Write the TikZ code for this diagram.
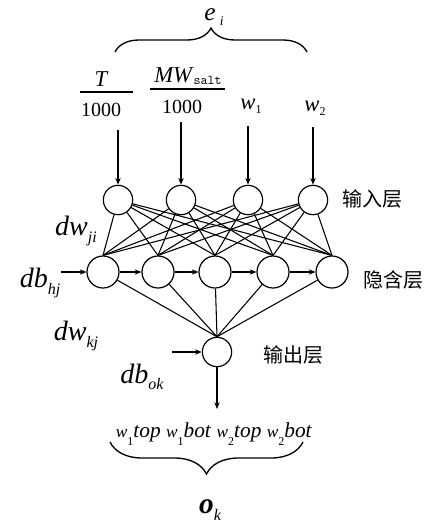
\documentclass[tikz,border=0pt]{standalone}
\usepackage{fontspec}
\setmainfont{Liberation Serif}
\newfontfamily\cjk{Noto Sans CJK SC}
\usetikzlibrary{decorations.pathreplacing,arrows.meta}
\begin{document}
\begin{tikzpicture}[x=0.75pt,y=-0.75pt,
  neuron/.style={circle,draw,line width=0.9pt,minimum size=22pt,inner sep=0pt},
  conn/.style={line width=0.8pt},
  arr/.style={line width=0.9pt,-{Stealth[length=5pt,width=4pt]}},
  lbl/.style={inner sep=0pt},
  brc/.style={decorate,line width=1pt}]
\useasboundingbox (0,0) rectangle (438,526);
% input layer
\foreach \i/\x in {1/118,2/181,3/248,4/313}
  \node[neuron] (i\i) at (\x,200) {};
% hidden layer
\foreach \j/\x in {1/103,2/158,3/215,4/273,5/332}
  \node[neuron,minimum size=24pt] (h\j) at (\x,272) {};
% output
\node[neuron] (o) at (217,352) {};
% connections
\foreach \i in {1,...,4}
  \foreach \j in {1,...,5}
    \draw[conn] (i\i) -- (h\j.north);
\foreach \j in {1,...,5}
  \draw[conn] (h\j) -- (o.north);
\foreach \a/\b in {1/2,2/3,3/4,4/5}
  \draw[arr] (h\a) -- (h\b);
% input texts
\node[lbl,font=\fontsize{17}{17}\selectfont\itshape] (tT) at (101,79) {T};
\coordinate (fl1a) at (80,92); \coordinate (fl1b) at (133,92);
\draw[line width=0.9pt] (fl1a) -- (fl1b);
\node[lbl,font=\fontsize{15}{15}\selectfont] (t1000a) at (101,110) {1000};
\node[lbl,font=\fontsize{17}{17}\selectfont] (tMW) at (188,76) {\textit{MW}\raisebox{-2pt}{\fontsize{10}{10}\selectfont\ttfamily salt}};
\coordinate (fl2a) at (150,89); \coordinate (fl2b) at (225,89);
\draw[line width=0.9pt] (fl2a) -- (fl2b);
\node[lbl,font=\fontsize{15}{15}\selectfont] (t1000b) at (182,107) {1000};
\node[lbl,font=\fontsize{17}{17}\selectfont] (tw1) at (251,106) {\textit{w}\raisebox{-3pt}{\fontsize{9}{9}\selectfont 1}};
\node[lbl,font=\fontsize{17}{17}\selectfont] (tw2) at (315,108) {\textit{w}\raisebox{-3pt}{\fontsize{9}{9}\selectfont 2}};
% input arrows
\coordinate (s1) at (118,130); \coordinate (s2) at (181,122);
\coordinate (s3) at (248,126); \coordinate (s4) at (313,127);
\foreach \i in {1,...,4} \draw[arr] (s\i) -- (i\i.north);
% top brace
\coordinate (b1a) at (115,52); \coordinate (b1b) at (307,52);
\draw[brc,decoration={brace,amplitude=18pt,aspect=0.5}] (b1a) -- (b1b);
\node[lbl,font=\fontsize{19}{19}\selectfont] (ei) at (214,17) {\textit{e}\,\raisebox{-4pt}{\fontsize{10}{10}\selectfont\textit{i}}};
% layer names
\node[lbl,font=\fontsize{15}{15}\selectfont\cjk] (nin) at (372,199) {输入层};
\node[lbl,font=\fontsize{15}{15}\selectfont\cjk] (nhid) at (393,280) {隐含层};
\node[lbl,font=\fontsize{15}{15}\selectfont\cjk] (nout) at (293,355) {输出层};
% weight labels
\node[lbl,font=\fontsize{21}{21}\selectfont\itshape] (dwji) at (76,231) {dw\raisebox{-5pt}{\fontsize{12}{12}\selectfont ji}};
\node[lbl,font=\fontsize{21}{21}\selectfont\itshape] (dbhj) at (40,283) {db\raisebox{-5pt}{\fontsize{12}{12}\selectfont hj}};
\node[lbl,font=\fontsize{21}{21}\selectfont\itshape] (dwkj) at (76,336) {dw\raisebox{-5pt}{\fontsize{12}{12}\selectfont kj}};
\node[lbl,font=\fontsize{21}{21}\selectfont\itshape] (dbok) at (142,377) {db\raisebox{-5pt}{\fontsize{12}{12}\selectfont ok}};
\coordinate (bh) at (61,272);
\draw[arr] (bh) -- (h1.west);
\coordinate (bo) at (172,352);
\draw[arr] (bo) -- (o.west);
% output arrow
\coordinate (oend) at (217,409);
\draw[arr] (o.south) -- (oend);
% output texts
\node[lbl,font=\fontsize{16}{16}\selectfont] (outs) at (214,434) {%
{\fontsize{13}{13}\selectfont\textit{w}}\raisebox{-6pt}{\fontsize{9}{9}\selectfont 1}\textit{top}\
{\fontsize{13}{13}\selectfont\textit{w}}\raisebox{-6pt}{\fontsize{9}{9}\selectfont 1}\textit{bot}\
{\fontsize{13}{13}\selectfont\textit{w}}\raisebox{-6pt}{\fontsize{9}{9}\selectfont 2}\textit{top}\
{\fontsize{13}{13}\selectfont\textit{w}}\raisebox{-6pt}{\fontsize{9}{9}\selectfont 2}\textit{bot}};
\coordinate (b2a) at (303,442); \coordinate (b2b) at (110,442);
\draw[brc,decoration={brace,amplitude=24pt,aspect=0.5}] (b2a) -- (b2b);
\node[lbl,font=\fontsize{22}{22}\selectfont\bfseries\itshape] (ok) at (210,510) {o\raisebox{-5pt}{\fontsize{12}{12}\selectfont\mdseries k}};
\end{tikzpicture}
\end{document}
